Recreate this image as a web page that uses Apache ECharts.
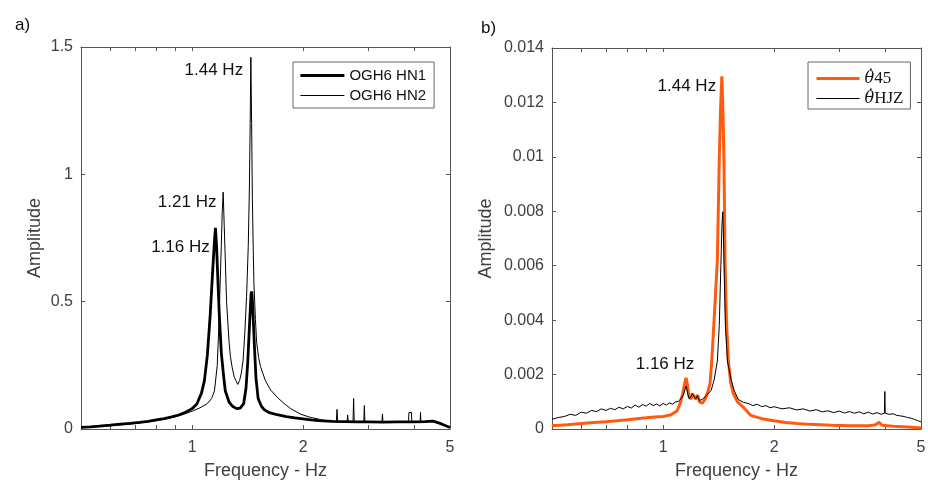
<!DOCTYPE html>
<html>
<head>
<meta charset="utf-8">
<script src="https://cdn.jsdelivr.net/npm/echarts@6/dist/echarts.min.js"></script>
<style>
  html, body { margin: 0; padding: 0; background: #fff; }
  #main { width: 928px; height: 481px; }
</style>
</head>
<body>
<div id="main"></div>
<script>
// ---- data ----
// x axis ticks / labels (Hz, log axis)
const xLabels = [1, 2, 5];
const xTicks = [0.6, 0.7, 0.8, 0.9, 1, 2, 3, 4];

// panel a) OGH6 HN1 (thick)
const hn1Freq = [0.5, 0.53, 0.56, 0.6, 0.64, 0.68, 0.72, 0.76, 0.8, 0.84,
  0.88, 0.92, 0.96, 1.0, 1.03, 1.06, 1.08, 1.10, 1.12, 1.135,
  1.15, 1.157, 1.165, 1.175, 1.185, 1.20, 1.215, 1.23, 1.26, 1.29,
  1.32, 1.35, 1.38, 1.40, 1.415, 1.43, 1.445, 1.452, 1.46, 1.475,
  1.49, 1.51, 1.54, 1.57, 1.62, 1.7, 1.8, 1.9, 2.0, 2.1,
  2.2, 2.4, 2.6, 2.8, 3.0, 3.3, 3.6, 4.0, 4.3, 4.5,
  4.7, 4.85, 5.0];
const hn1Amp = [0.006, 0.008, 0.011, 0.015, 0.019, 0.022, 0.026, 0.030, 0.036, 0.041,
  0.048, 0.055, 0.066, 0.080, 0.098, 0.14, 0.19, 0.29, 0.45, 0.60,
  0.74, 0.79, 0.72, 0.58, 0.45, 0.30, 0.22, 0.15, 0.105, 0.088,
  0.080, 0.082, 0.10, 0.16, 0.26, 0.40, 0.53, 0.54, 0.48, 0.33,
  0.20, 0.12, 0.09, 0.075, 0.064, 0.056, 0.049, 0.044, 0.040, 0.036,
  0.033, 0.030, 0.029, 0.028, 0.028, 0.027, 0.028, 0.028, 0.029, 0.031,
  0.022, 0.014, 0.006];

// panel a) OGH6 HN2 (thin)
const hn2Freq = [0.5, 0.55, 0.6, 0.65, 0.7, 0.75, 0.8, 0.85, 0.9, 0.95,
  1.0, 1.05, 1.1, 1.13, 1.15, 1.17, 1.18, 1.19, 1.20, 1.207,
  1.214, 1.222, 1.232, 1.24, 1.25, 1.26, 1.27, 1.285, 1.30, 1.315,
  1.33, 1.345, 1.36, 1.375, 1.39, 1.405, 1.42, 1.43, 1.437, 1.443,
  1.45, 1.457, 1.465, 1.471, 1.485, 1.496, 1.515, 1.533, 1.58, 1.633,
  1.7, 1.776, 1.85, 1.97, 2.1, 2.3, 2.46, 2.47, 2.48, 2.63,
  2.64, 2.65, 2.73, 2.74, 2.75, 2.92, 2.93, 2.94, 3.27, 3.28,
  3.29, 3.6, 3.86, 3.87, 3.9, 3.93, 3.94, 4.15, 4.16, 4.17,
  4.45, 4.7, 4.85, 5.0];
const hn2Amp = [0.005, 0.009, 0.013, 0.017, 0.022, 0.027, 0.033, 0.040, 0.048, 0.058,
  0.070, 0.083, 0.10, 0.12, 0.15, 0.25, 0.38, 0.55, 0.72, 0.85,
  0.93, 0.80, 0.64, 0.50, 0.42, 0.34, 0.285, 0.24, 0.205, 0.19,
  0.175, 0.19, 0.22, 0.27, 0.38, 0.52, 0.72, 0.95, 1.2, 1.46,
  1.2, 0.9, 0.7, 0.57, 0.43, 0.34, 0.28, 0.245, 0.19, 0.153,
  0.125, 0.10, 0.08, 0.058, 0.045, 0.033, 0.028, 0.077, 0.028, 0.027,
  0.055, 0.027, 0.027, 0.12, 0.028, 0.027, 0.092, 0.027, 0.027, 0.059,
  0.027, 0.027, 0.028, 0.065, 0.058, 0.065, 0.028, 0.028, 0.065, 0.028,
  0.034, 0.022, 0.014, 0.006];

// panel b) theta-dot 45 (orange, thick)
const t45Freq = [0.5, 0.55, 0.6, 0.65, 0.7, 0.75, 0.8, 0.85, 0.9, 0.95,
  1.0, 1.05, 1.09, 1.11, 1.13, 1.145, 1.154, 1.162, 1.175, 1.19,
  1.2, 1.214, 1.225, 1.239, 1.255, 1.278, 1.3, 1.325, 1.341, 1.355,
  1.375, 1.39, 1.403, 1.42, 1.432, 1.443, 1.452, 1.462, 1.472, 1.485,
  1.503, 1.525, 1.55, 1.591, 1.65, 1.729, 1.85, 2.0, 2.15, 2.31,
  2.5, 2.85, 3.2, 3.6, 3.75, 3.85, 3.92, 4.2, 4.6, 5.0];
const t45Amp = [0.00012, 0.00016, 0.0002, 0.00024, 0.00027, 0.0003, 0.00034, 0.00038, 0.00041, 0.00044,
  0.00046, 0.00052, 0.00066, 0.0009, 0.0013, 0.0017, 0.00188, 0.0017, 0.0012, 0.0011,
  0.0013, 0.00135, 0.0011, 0.00125, 0.001, 0.00095, 0.0011, 0.0014, 0.0017, 0.0025,
  0.004, 0.0052, 0.0062, 0.0099, 0.0118, 0.01296, 0.0118, 0.0099, 0.0062, 0.004,
  0.0025, 0.0017, 0.0013, 0.001, 0.0008, 0.0005, 0.00038, 0.0003, 0.00024, 0.0002,
  0.00017, 0.00014, 0.00012, 0.00012, 0.00015, 0.00025, 0.00014, 0.0001, 0.00007, 0.00004];

// panel b) theta-dot HJZ (black, thin)
const hjzFreq = [0.5, 0.52, 0.54, 0.56, 0.58, 0.6, 0.62, 0.64, 0.66, 0.68,
  0.7, 0.72, 0.74, 0.76, 0.78, 0.8, 0.82, 0.84, 0.86, 0.88,
  0.9, 0.92, 0.94, 0.96, 0.98, 1.0, 1.02, 1.04, 1.06, 1.08,
  1.1, 1.12, 1.135, 1.147, 1.154, 1.162, 1.175, 1.19, 1.2, 1.214,
  1.225, 1.24, 1.255, 1.278, 1.3, 1.325, 1.35, 1.375, 1.403, 1.42,
  1.434, 1.444, 1.451, 1.457, 1.463, 1.475, 1.494, 1.53, 1.56, 1.6,
  1.65, 1.7, 1.75, 1.8, 1.85, 1.9, 1.95, 2.0, 2.1, 2.2,
  2.3, 2.4, 2.5, 2.6, 2.7, 2.8, 2.9, 3.0, 3.1, 3.2,
  3.3, 3.4, 3.5, 3.6, 3.7, 3.8, 3.9, 3.98, 3.99, 4.0,
  4.1, 4.2, 4.3, 4.4, 4.5, 4.6, 4.7, 4.8, 4.9, 5.0];
const hjzAmp = [0.00036, 0.00042, 0.00046, 0.00054, 0.0005, 0.00062, 0.00058, 0.00068, 0.00064, 0.00074,
  0.00068, 0.00076, 0.00071, 0.0008, 0.00074, 0.00083, 0.00077, 0.00088, 0.0008, 0.0009,
  0.00084, 0.00094, 0.00086, 0.00092, 0.00085, 0.00094, 0.00088, 0.00096, 0.00091, 0.00099,
  0.00102, 0.00112, 0.00125, 0.00145, 0.00158, 0.0014, 0.00112, 0.00118, 0.0013, 0.00126,
  0.0011, 0.00122, 0.00104, 0.0011, 0.00118, 0.0013, 0.00142, 0.0018, 0.0025, 0.0038,
  0.006, 0.0075, 0.00798, 0.0072, 0.006, 0.0038, 0.0025, 0.0018, 0.0014, 0.00108,
  0.00098, 0.00094, 0.00086, 0.00091, 0.00082, 0.00086, 0.00078, 0.00082, 0.00074, 0.00078,
  0.0007, 0.00074, 0.00066, 0.00071, 0.00063, 0.00067, 0.0006, 0.00066, 0.00059, 0.00064,
  0.00058, 0.00063, 0.00056, 0.00062, 0.00055, 0.0006, 0.00054, 0.00058, 0.00138, 0.00058,
  0.00054, 0.00056, 0.0005, 0.00048, 0.00046, 0.00042, 0.0004, 0.00035, 0.00031, 0.00026];

const namesA = ['OGH6 HN1', 'OGH6 HN2'];
const namesB = ['\u03b8\u030745', '\u03b8\u0307HJZ'];

// ---- style ----
const FONT = '"Liberation Sans", Arial, Helvetica, sans-serif';
const SERIF = '"DejaVu Serif", "Liberation Serif", serif';
const SERIF_R = '"Liberation Serif", "DejaVu Serif", serif';
const LINE = '#555555';
const TEXT = '#404040';
const ORANGE = '#ff5a0f';

const pairs = (xs, ys) => xs.map((x, i) => [x, ys[i]]);

function bottomAxis (gridIndex) {
  return {
    type: 'log', logBase: 10, gridIndex: gridIndex, position: 'bottom',
    min: 0.5, max: 5,
    name: 'Frequency - Hz', nameLocation: 'middle', nameGap: 33,
    nameTextStyle: { color: TEXT, fontSize: 18, fontFamily: FONT },
    axisLine: { show: true, onZero: false, lineStyle: { color: LINE, width: 1 } },
    axisTick: { show: true, inside: true, length: 4, customValues: xTicks, lineStyle: { color: LINE } },
    minorTick: { show: false },
    axisLabel: { show: true, customValues: xLabels, margin: 11, color: TEXT, fontSize: 16, fontFamily: FONT,
      formatter: v => String(+v.toFixed(3)) },
    splitLine: { show: false }
  };
}

function topAxis (gridIndex) {
  return {
    type: 'log', logBase: 10, gridIndex: gridIndex, position: 'top',
    min: 0.5, max: 5,
    axisLine: { show: true, onZero: false, lineStyle: { color: LINE, width: 1 } },
    axisTick: { show: true, inside: true, length: 4, customValues: xTicks, lineStyle: { color: LINE } },
    minorTick: { show: false },
    axisLabel: { show: false },
    splitLine: { show: false }
  };
}

function leftAxis (gridIndex, max, interval, gap) {
  return {
    type: 'value', gridIndex: gridIndex, position: 'left',
    min: 0, max: max, interval: interval,
    name: 'Amplitude', nameLocation: 'middle', nameGap: gap,
    nameTextStyle: { color: TEXT, fontSize: 18, fontFamily: FONT },
    axisLine: { show: true, onZero: false, lineStyle: { color: LINE, width: 1 } },
    axisTick: { show: true, inside: true, length: 4, lineStyle: { color: LINE } },
    axisLabel: { margin: 8, color: TEXT, fontSize: 16, fontFamily: FONT },
    splitLine: { show: false }
  };
}

function rightAxis (gridIndex, max, interval) {
  return {
    type: 'value', gridIndex: gridIndex, position: 'right',
    min: 0, max: max, interval: interval,
    axisLine: { show: true, onZero: false, lineStyle: { color: LINE, width: 1 } },
    axisTick: { show: true, inside: true, length: 4, lineStyle: { color: LINE } },
    axisLabel: { show: false },
    splitLine: { show: false }
  };
}

// peak annotations, placed relative to the peak they name
function peakLabel (name, coord, dx, dy) {
  return {
    name: name, coord: coord,
    symbol: 'circle', symbolSize: 1, itemStyle: { color: 'rgba(0,0,0,0)' },
    label: { show: true, position: 'inside', offset: [dx, dy], formatter: '{b}',
      color: '#111', fontSize: 17, fontFamily: FONT }
  };
}

const legendBase = {
  orient: 'vertical', selectedMode: false,
  itemHeight: 14, borderColor: '#666', borderWidth: 1, borderRadius: 0, backgroundColor: '#fff',
  itemStyle: { opacity: 0 },   // line sample only, no marker
  lineStyle: { width: 'inherit' }
};

const chart = echarts.init(document.getElementById('main'));

const option = {
  animation: false,
  backgroundColor: '#ffffff',
  title: [
    { text: 'a)', left: 15, top: 17, padding: 0, textStyle: { fontSize: 17, fontWeight: 'normal', color: '#111', fontFamily: FONT } },
    { text: 'b)', left: 481, top: 20, padding: 0, textStyle: { fontSize: 17, fontWeight: 'normal', color: '#111', fontFamily: FONT } }
  ],
  grid: [
    { left: 81, right: 478, top: 47, bottom: 52, outerBoundsMode: 'none' },
    { left: 552, right: 7, top: 48, bottom: 52, outerBoundsMode: 'none' }
  ],
  legend: [
    Object.assign({}, legendBase, {
      data: [
        { name: namesA[0], lineStyle: { width: 2.8 } },
        { name: namesA[1], lineStyle: { width: 1 } }
      ],
      left: 293, top: 62,
      itemWidth: 44, itemGap: 5, padding: [6, 8, 5, 6],
      textStyle: { fontSize: 15, fontFamily: FONT, color: '#111' }
    }),
    Object.assign({}, legendBase, {
      data: [
        { name: namesB[0], lineStyle: { width: 3 } },
        { name: namesB[1], lineStyle: { width: 1 } }
      ],
      left: 808, top: 62,
      itemWidth: 43, itemGap: -1, padding: [4, 7, 2, 7],
      formatter: function (name) {
        // the dot over theta is drawn as its own zero-size piece
        return name === namesB[0] ? '{d|\u2009\u02d9}{i|\u03b8}{r|45}' : '{d|\u2009\u02d9}{i|\u03b8}{r|HJZ}';
      },
      textStyle: {
        color: '#111',
        rich: {
          d: { fontFamily: SERIF_R, fontSize: 17, color: '#111', width: 0.01, height: 0, lineHeight: 17, padding: [0, 0, 8, 0] },
          i: { fontFamily: SERIF, fontStyle: 'italic', fontSize: 16, color: '#111', lineHeight: 17 },
          r: { fontFamily: SERIF_R, fontSize: 17, color: '#111', lineHeight: 17 }
        }
      }
    })
  ],
  xAxis: [bottomAxis(0), topAxis(0), bottomAxis(1), topAxis(1)],
  yAxis: [leftAxis(0, 1.5, 0.5, 37), rightAxis(0, 1.5, 0.5), leftAxis(1, 0.014, 0.002, 57), rightAxis(1, 0.014, 0.002)],
  series: [
    {
      name: namesA[0], type: 'line', xAxisIndex: 0, yAxisIndex: 0,
      data: pairs(hn1Freq, hn1Amp), symbol: 'none', color: '#000',
      lineStyle: { color: '#000', width: 2.8 },
      markPoint: { data: [peakLabel('1.16 Hz', [1.157, 0.79], -35, 19)] }
    },
    {
      name: namesA[1], type: 'line', xAxisIndex: 0, yAxisIndex: 0,
      data: pairs(hn2Freq, hn2Amp), symbol: 'none', color: '#000',
      lineStyle: { color: '#000', width: 1 },
      markPoint: { data: [peakLabel('1.44 Hz', [1.443, 1.46], -37, 13), peakLabel('1.21 Hz', [1.214, 0.93], -36, 10)] }
    },
    {
      name: namesB[0], type: 'line', xAxisIndex: 2, yAxisIndex: 2,
      data: pairs(t45Freq, t45Amp), symbol: 'none', color: ORANGE,
      lineStyle: { color: ORANGE, width: 3 },
      markPoint: { data: [peakLabel('1.44 Hz', [1.443, 0.01296], -35, 10), peakLabel('1.16 Hz', [1.154, 0.00188], -21, -14)] }
    },
    {
      name: namesB[1], type: 'line', xAxisIndex: 2, yAxisIndex: 2,
      data: pairs(hjzFreq, hjzAmp), symbol: 'none', color: '#000',
      lineStyle: { color: '#000', width: 1 }
    }
  ]
};

chart.setOption(option);
</script>
</body>
</html>
